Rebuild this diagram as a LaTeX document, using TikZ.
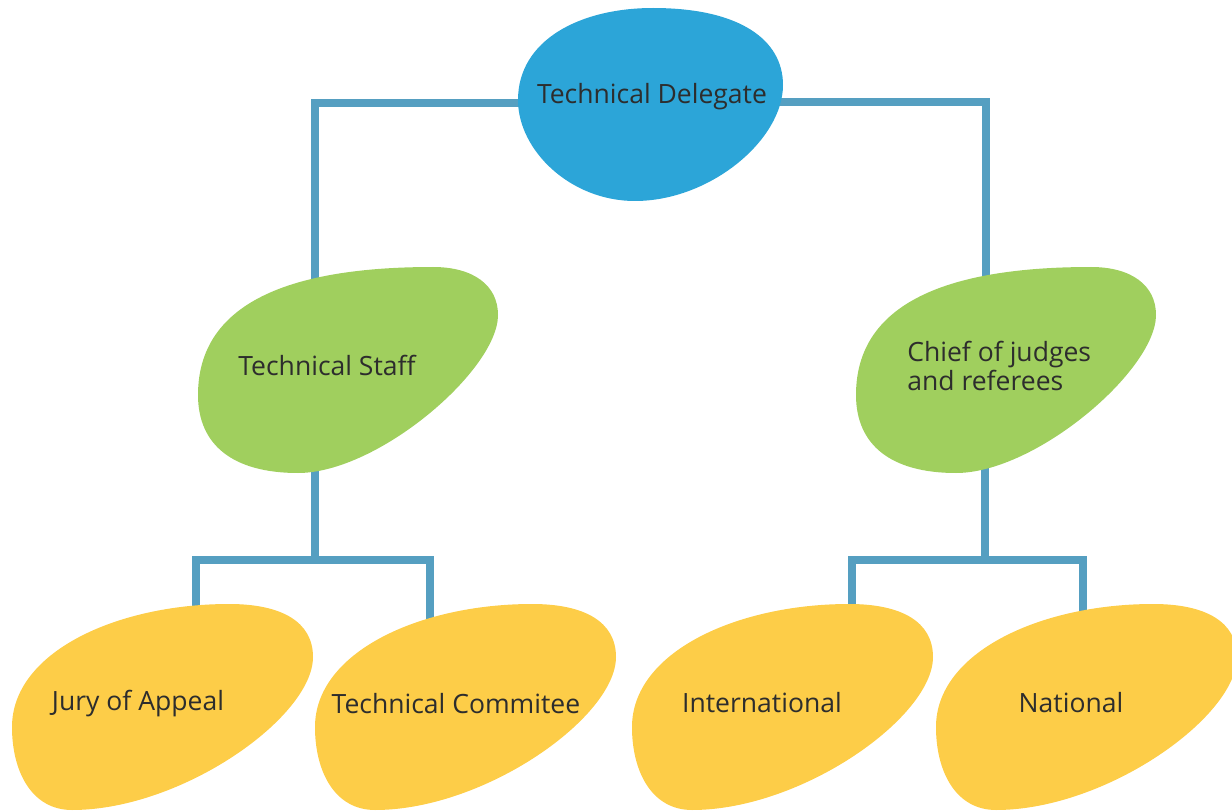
\documentclass[tikz,border=0pt]{standalone}
\usepackage{fontspec}
\setmainfont{Open Sans}
\usetikzlibrary{calc,positioning,backgrounds}
\definecolor{tdblue}{HTML}{2CA5D8}
\definecolor{staffgreen}{HTML}{A0CF5E}
\definecolor{unityellow}{HTML}{FDCD48}
\definecolor{linkblue}{HTML}{559FC1}
\definecolor{txtgrey}{HTML}{2D2D2D}
\newcommand{\eggblob}[2]{\fill[#2,shift={#1}] (85,-103) .. controls (125,-103) and (150,-85) .. (150,-55) .. controls (150,0) and (30,103) .. (-50,103) .. controls (-115,103) and (-150,75) .. (-150,25) .. controls (-150,-78) and (-35,-103) .. (85,-103) -- cycle;}
\newcommand{\seedblob}[2]{\fill[#2,shift={#1}] (67,-103) .. controls (120,-103) and (151,-85) .. (151,-50) .. controls (151,10) and (20,103) .. (-90,103) .. controls (-130,103) and (-150,65) .. (-150,20) .. controls (-150,-55) and (-45,-103) .. (67,-103) -- cycle;}

\begin{document}
\begin{tikzpicture}[
                x=0.02cm, y=-0.02cm,
                every node/.append style={inner sep=0pt,text=txtgrey,font=\fontsize{15.1}{16.4}\selectfont},
                link/.style={draw=linkblue,line width=4pt}
            ]
                \useasboundingbox (0,0) rectangle (1232,811);
                \node (td)    at (652,97)                  {Technical Delegate};
                \node (staff) at (327,365)                 {Technical Staff};
                \node (chief) [anchor=west,align=left] at (907,366) {Chief of judges\\and referees};
                \node (jury)  at (138,704)                 {Jury of Appeal};
                \node (comm)  at (456,704)                 {Technical Commitee};
                \node (intl)  at (762,703)                 {International};
                \node (natl)  at (1071,703)                {National};
                \coordinate (sj) at (315,560);
                \coordinate (cj) at (985,560);
                \begin{scope}[on background layer]
                    \draw[link] ($(td)+(0,6)$) -| ($(staff)+(-12,0)$);
                    \draw[link] ($(td)+(0,5)$) -| ($(chief.west)+(79,0)$);
                    \draw[link] ($(staff)+(-12,0)$) -- (sj);
                    \draw[link] ($(jury)+(58,0)$) |- (sj);
                    \draw[link] ($(comm)+(-26,0)$) |- (sj);
                    \draw[link] ($(chief.west)+(78,0)$) -- (cj);
                    \draw[link] ($(intl)+(90,0)$) |- (cj);
                    \draw[link] ($(natl)+(12,0)$) |- (cj);
                    \fill[tdblue] (653,8) .. controls (740,8) and (783,40) .. (783,85) .. controls (783,140) and (710,201) .. (635,201) .. controls (570,201) and (518,150) .. (518,100) .. controls (518,40) and (580,8) .. (653,8) -- cycle;
                    \eggblob{(348,370)}{staffgreen}
                    \eggblob{(1006,370)}{staffgreen}
                    \foreach \cx in {162,465,782,1086} {
                        \seedblob{(\cx,707)}{unityellow}
                    }
                \end{scope}
            \end{tikzpicture}
\end{document}
